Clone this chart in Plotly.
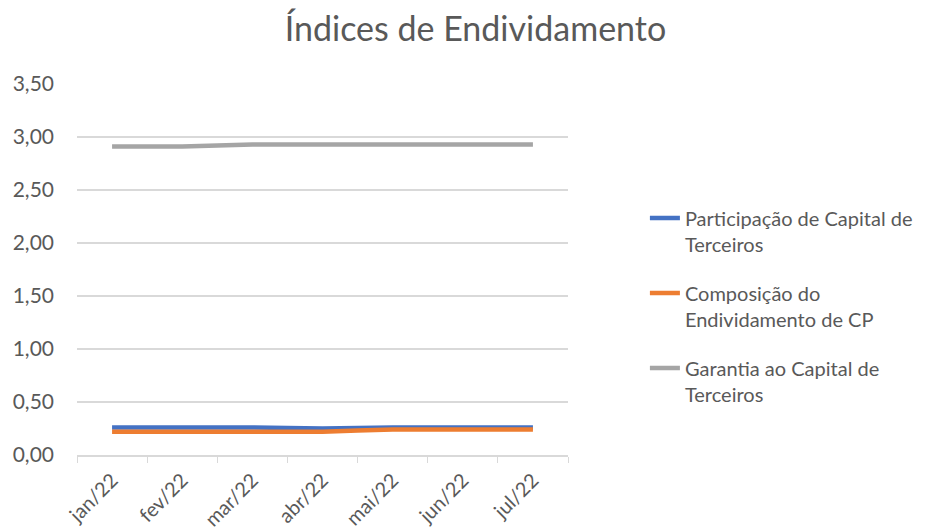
import plotly.graph_objects as go

# Monthly debt ratios
meses = ["jan/22", "fev/22", "mar/22", "abr/22", "mai/22", "jun/22", "jul/22"]
participacao = [0.26, 0.26, 0.26, 0.25, 0.26, 0.26, 0.26]
composicao = [0.22, 0.22, 0.22, 0.22, 0.24, 0.24, 0.24]
garantia = [2.91, 2.91, 2.93, 2.93, 2.93, 2.93, 2.93]

nomes = [
    "Participação de Capital de<br>Terceiros",
    "Composição do<br>Endividamento de CP",
    "Garantia ao Capital de<br>Terceiros",
]
cores = ["#4472C4", "#ED7D31", "#A5A5A5"]
series = [participacao, composicao, garantia]

texto = "#595959"
grade = "#D9D9D9"
fonte = "Lato, Carlito, Calibri, sans-serif"

fig = go.Figure()
for i, (nome, cor, valores) in enumerate(zip(nomes, cores, series)):
    fig.add_trace(go.Scatter(
        x=meses, y=valores, name=nome, mode="lines", legendgroup=f"g{i}",
        line=dict(color=cor, width=4.5, shape="spline", smoothing=0.3),
    ))

fig.update_layout(
    width=936, height=531,
    paper_bgcolor="white", plot_bgcolor="white",
    separators=",.",
    font=dict(family=fonte, color=texto, size=20),
    title=dict(text="Índices de Endividamento", x=0.508, xanchor="center",
               y=0.945, yanchor="middle",
               font=dict(size=34, color=texto, family=fonte)),
    margin=dict(l=77, r=368, t=84, b=76, autoexpand=False),
    showlegend=True,
    legend=dict(
        xref="container", yref="container", x=0.689, y=0.626,
        xanchor="left", yanchor="top", valign="top",
        font=dict(size=20, color=texto, family=fonte),
        tracegroupgap=20, itemwidth=30, bgcolor="rgba(0,0,0,0)",
    ),
    xaxis=dict(
        type="category", showgrid=False, showline=True, linecolor=grade,
        linewidth=1.5, ticks="outside", tickson="boundaries", ticklen=6,
        tickcolor=grade, tickangle=-45, ticklabelstandoff=4,
        tickfont=dict(size=20, color=texto), automargin=False,
        range=[-0.5, 6.5],
    ),
    yaxis=dict(
        range=[0, 3.5], dtick=0.5, tick0=0, tickformat=".2f",
        showgrid=True, gridcolor=grade, gridwidth=1.5, zeroline=False,
        showline=False, ticks="", ticklabelstandoff=22, automargin=False,
        tickfont=dict(size=21, color=texto),
    ),
)

fig.write_html("out.html")
